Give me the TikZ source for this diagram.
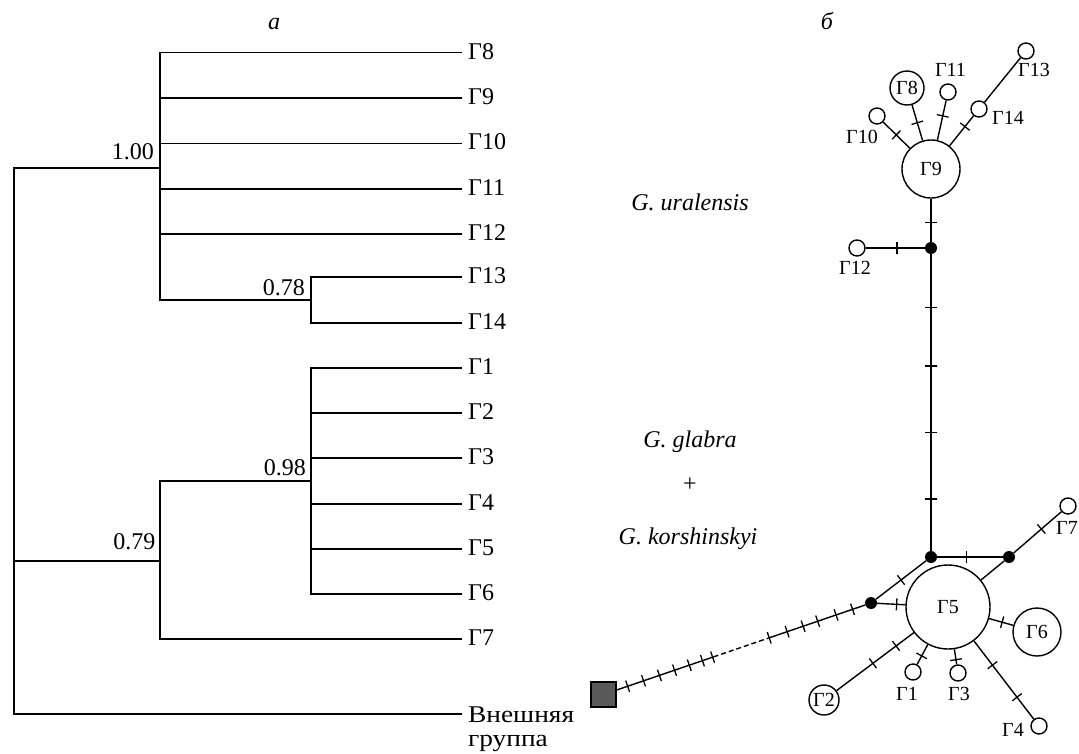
\documentclass[tikz,border=0pt]{standalone}
\usepackage{fontspec}
\setmainfont{Liberation Serif}
\newfontfamily\widefont[FakeStretch=1.14]{Liberation Serif}
\newcommand\tfont{\fontsize{24}{26}\selectfont}
\newcommand\nfont{\fontsize{20}{22}\selectfont}
\begin{document}
\begin{tikzpicture}[x=1pt,y=-1pt,
  tl/.style={line width=1.5pt, line cap=rect},
  leaf/.style={anchor=base west, inner sep=0pt, font=\tfont},
  supp/.style={anchor=base east, inner sep=0pt, font=\tfont},
  ttl/.style={anchor=base, inner sep=0pt, font=\tfont\itshape},
  hap/.style={circle, draw, line width=1.4pt, inner sep=0pt, fill=white, font=\nfont},
  sm/.style={circle, draw, line width=1.4pt, inner sep=0pt, minimum size=16pt, fill=white},
  jn/.style={circle, fill=black, inner sep=0pt, minimum size=12pt},
  og/.style={rectangle, draw, line width=1.4pt, fill=black!65, inner sep=0pt, minimum size=25pt},
  ed/.style={line width=1.4pt},
  tk/.style={sloped, draw, line width=1.3pt, inner sep=0pt, minimum width=0pt, minimum height=12pt},
  nl/.style={inner sep=0pt, font=\nfont}]
\useasboundingbox (0,0) rectangle (1079,753);

% ---------- tree (a) ----------
\coordinate (root) at (14,561);
\coordinate (n1) at (160,168);
\coordinate (n2) at (311,300);
\coordinate (n3) at (160,561);
\coordinate (n4) at (311,481);
\coordinate (e8) at (461,52.7);
\coordinate (e9) at (461,98);
\coordinate (e10) at (461,143.3);
\coordinate (e11) at (461,189);
\coordinate (e12) at (461,234);
\coordinate (e13) at (461,277);
\coordinate (e14) at (461,323);
\coordinate (e1) at (461,368);
\coordinate (e2) at (461,413);
\coordinate (e3) at (461,458);
\coordinate (e4) at (461,504);
\coordinate (e5) at (461,549);
\coordinate (e6) at (461,594);
\coordinate (e7) at (461,639);
\coordinate (eo) at (461,714);

\draw[tl] (n1) -| (root) |- (eo);
\draw[tl] (n3) -- (root);
\foreach \l in {e8,e9,e10,e11,e12,n2} \draw[tl] (n1) |- (\l);
\foreach \l in {e13,e14} \draw[tl] (n2) |- (\l);
\foreach \l in {n4,e7} \draw[tl] (n3) |- (\l);
\foreach \l in {e1,e2,e3,e4,e5,e6} \draw[tl] (n4) |- (\l);

\node[leaf] (t8) at (468,59.2) {Γ8};
\node[leaf] (t9) at (468,104.5) {Γ9};
\node[leaf] (t10) at (468,149.8) {Γ10};
\node[leaf] (t11) at (468,195.5) {Γ11};
\node[leaf] (t12) at (468,240.5) {Γ12};
\node[leaf] (t13) at (468,283.5) {Γ13};
\node[leaf] (t14) at (468,329.5) {Γ14};
\node[leaf] (t1) at (468,374.5) {Γ1};
\node[leaf] (t2) at (468,419.5) {Γ2};
\node[leaf] (t3) at (468,464.5) {Γ3};
\node[leaf] (t4) at (468,510.5) {Γ4};
\node[leaf] (t5) at (468,555.5) {Γ5};
\node[leaf] (t6) at (468,600.5) {Γ6};
\node[leaf] (t7) at (468,645.5) {Γ7};
\node[leaf, font=\tfont\widefont] (to1) at (468,722) {Внешняя};
\node[leaf, font=\tfont\widefont] (to2) at (468,746) {группа};

\node[supp] (s100) at (154,159) {1.00};
\node[supp] (s078) at (305,295) {0.78};
\node[supp] (s098) at (306,475) {0.98};
\node[supp] (s079) at (155.5,549) {0.79};

\node[ttl] (ta) at (274,29) {a};
\node[ttl] (tb) at (827,29) {б};

\node[ttl] (sp1) at (690,210) {G. uralensis};
\node[ttl] (sp2) at (690,447) {G. glabra};
\node[inner sep=0pt, font=\tfont] (plus) at (690,485) {+};
\node[ttl] (sp3) at (688,544) {G. korshinskyi};

% ---------- network (b) ----------
\node[hap, minimum size=58pt] (g9) at (931,169) {Γ9};
\node[hap, minimum size=34pt] (g8) at (907,88) {Γ8};
\node[sm] (g10) at (877,116) {};
\node[sm] (g11) at (948,92) {};
\node[sm] (g14) at (979,109) {};
\node[sm] (g13) at (1026,51) {};
\node[sm] (g12) at (857,248) {};
\node[jn] (j1) at (931,248) {};
\node[jn] (j2) at (931,557) {};
\node[jn] (j3) at (1009,557) {};
\node[jn] (jc) at (871,603) {};
\node[sm] (g7) at (1068,506) {};
\node[hap, minimum size=84pt] (g5) at (948,607) {Γ5};
\node[hap, minimum size=48pt] (g6) at (1037,632) {Γ6};
\node[sm] (g1) at (913,672) {};
\node[sm] (g3) at (958,673) {};
\node[sm] (g4) at (1039,726) {};
\node[hap, minimum size=30pt] (g2) at (824,700) {Γ2};
\node[og] (out) at (603.5,694.5) {};

\node[nl] (l10) at (862,137) {Γ10};
\node[nl] (l11) at (950.5,70) {Γ11};
\node[nl] (l13) at (1034,70) {Γ13};
\node[nl] (l14) at (1008,118) {Γ14};
\node[nl] (l12) at (855,268) {Γ12};
\node[nl] (l7) at (1067,528) {Γ7};
\node[nl] (l1) at (907,694) {Γ1};
\node[nl] (l3) at (959,694) {Γ3};
\node[nl] (l4) at (1013,730) {Γ4};

\draw[ed] (g9) -- node[tk,pos=.55]{} (j1);
\draw[ed] (g12) -- node[tk,pos=.53]{} (j1);
\draw[ed] (g10) -- node[tk,pos=.49]{} (g9);
\draw[ed] (g8) -- node[tk,pos=.50]{} (g9);
\draw[ed] (g11) -- node[tk,pos=.39]{} (g9);
\draw[ed] (g14) -- node[tk,pos=.36]{} (g9);
\draw[ed] (g13) -- (g14);
\draw[ed] (j1) -- node[tk,pos=.18]{} node[tk,pos=.377]{} node[tk,pos=.60]{} node[tk,pos=.825]{} (j2);
\draw[ed] (j2) -- node[tk,pos=.45]{} (j3);
\draw[ed] (j3) -- node[tk,pos=.58]{} (g7);
\draw[ed] (j3) -- (g5);
\draw[ed] (jc) -- node[tk,pos=.5]{} (j2);
\draw[ed] (jc) -- node[tk,pos=.69]{} (g5);
\draw[ed] (g5) -- node[tk,pos=.54]{} (g6);
\draw[ed] (g5) -- node[tk,pos=.57]{} (g1);
\draw[ed] (g5) -- node[tk,pos=.69]{} (g3);
\draw[ed] (g5) -- node[tk,pos=.31]{} node[tk,pos=.72]{} (g4);
\draw[ed] (g5) -- node[tk,pos=.23]{} node[tk,pos=.53]{} (g2);

\path (out) -- coordinate[pos=.39] (d1) coordinate[pos=.61] (d2) (jc);
\draw[ed] (out) -- node[tk,pos=.113]{} node[tk,pos=.277]{} node[tk,pos=.441]{}
  node[tk,pos=.597]{} node[tk,pos=.749]{} node[tk,pos=.885]{} node[tk,pos=.99]{} (d1);
\draw[ed, dash pattern=on 5pt off 3pt] (d1) -- (d2);
\draw[ed] (d2) -- node[tk,pos=.01]{} node[tk,pos=.195]{} node[tk,pos=.36]{}
  node[tk,pos=.51]{} node[tk,pos=.70]{} node[tk,pos=.87]{} (jc);
\end{tikzpicture}
\end{document}
